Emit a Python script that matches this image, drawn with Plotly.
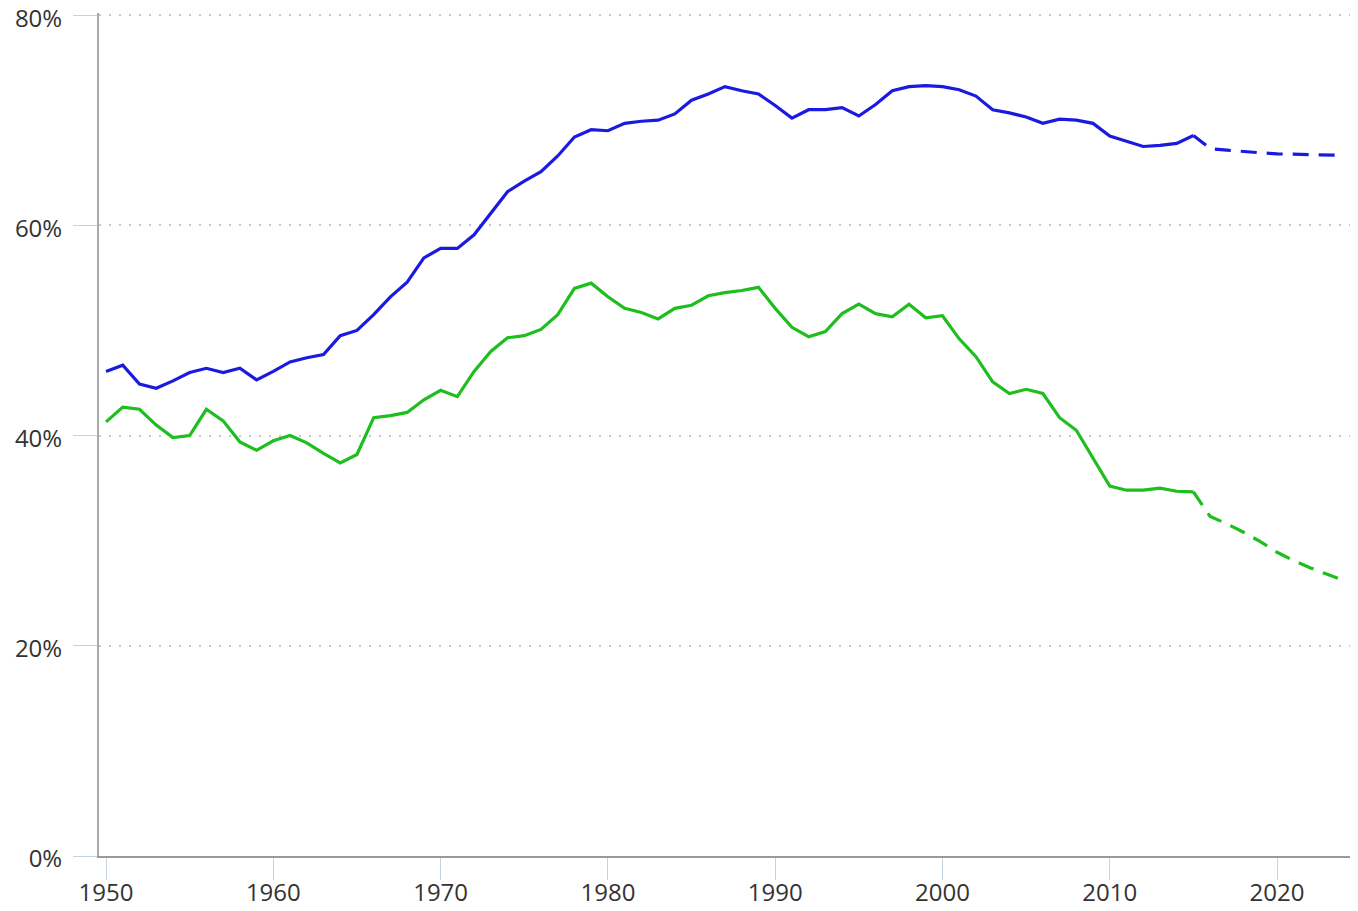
import plotly.graph_objects as go

# yearly values, percent
years = list(range(1950, 2016))
blue_values = [
    46.1, 46.7, 44.9, 44.5, 45.2, 46.0, 46.4, 46.0, 46.4, 45.3,
    46.1, 47.0, 47.4, 47.7, 49.5, 50.0, 51.5, 53.2, 54.6, 56.9,
    57.8, 57.8, 59.1, 61.2, 63.2, 64.2, 65.1, 66.6, 68.4, 69.1,
    69.0, 69.7, 69.9, 70.0, 70.6, 71.9, 72.5, 73.2, 72.8, 72.5,
    71.4, 70.2, 71.0, 71.0, 71.2, 70.4, 71.5, 72.8, 73.2, 73.3,
    73.2, 72.9, 72.3, 71.0, 70.7, 70.3, 69.7, 70.1, 70.0, 69.7,
    68.5, 68.0, 67.5, 67.6, 67.8, 68.55,
]
green_values = [
    41.3, 42.7, 42.5, 41.0, 39.8, 40.0, 42.5, 41.4, 39.4, 38.6,
    39.5, 40.0, 39.3, 38.3, 37.4, 38.2, 41.7, 41.9, 42.2, 43.4,
    44.3, 43.7, 46.1, 48.0, 49.3, 49.5, 50.1, 51.5, 54.0, 54.5,
    53.2, 52.1, 51.7, 51.1, 52.1, 52.4, 53.3, 53.6, 53.8, 54.1,
    52.1, 50.3, 49.4, 49.9, 51.6, 52.5, 51.6, 51.3, 52.5, 51.2,
    51.4, 49.2, 47.5, 45.1, 44.0, 44.4, 44.0, 41.7, 40.5, 37.8,
    35.2, 34.8, 34.8, 35.0, 34.7, 34.65,
]

# projection, starting from the last observed year
proj_years = list(range(2015, 2025))
blue_proj = [68.55, 67.3, 67.15, 67.0, 66.9, 66.8, 66.75, 66.7, 66.7, 66.65]
green_proj = [34.65, 32.3, 31.6, 30.8, 29.9, 28.9, 28.1, 27.4, 26.8, 26.2]

x_ticks = list(range(1950, 2030, 10))
y_ticks = [0, 20, 40, 60, 80]
y_labels = [f"{v}%" for v in y_ticks]

BLUE = "#1a1ae0"
GREEN = "#1ebe1e"

fig = go.Figure()
fig.add_trace(go.Scatter(x=years, y=blue_values, mode="lines",
                         line=dict(color=BLUE, width=3.2)))
fig.add_trace(go.Scatter(x=proj_years, y=blue_proj, mode="lines",
                         line=dict(color=BLUE, width=3.2, dash="16px,10px")))
fig.add_trace(go.Scatter(x=years, y=green_values, mode="lines",
                         line=dict(color=GREEN, width=3.2)))
fig.add_trace(go.Scatter(x=proj_years, y=green_proj, mode="lines",
                         line=dict(color=GREEN, width=3.2, dash="16px,10px")))

# the page body adds an 8px margin, so the figure is sized to fit inside it
fig.update_layout(
    width=1342,
    height=895,
    margin=dict(l=91, r=0, t=5, b=47),
    paper_bgcolor="white",
    plot_bgcolor="white",
    showlegend=False,
    font=dict(family="Open Sans", size=24, color="#333333"),
)
fig.update_xaxes(
    range=[1949.58, 2024.36],
    tickvals=x_ticks,
    automargin=False,
    ticklabeloverflow="allow",
    ticklabelstandoff=-8,
    showgrid=False,
    zeroline=False,
    showline=True,
    linecolor="#999999",
    linewidth=2,
    ticks="outside",
    ticklen=22,
    tickwidth=1,
    tickcolor="#c4d2e4",
)
fig.update_yaxes(
    range=[0, 80.2],
    tickvals=y_ticks,
    ticktext=y_labels,
    automargin=False,
    ticklabeloverflow="allow",
    ticklabelstandoff=6,
    ticklabelshift=3,
    showgrid=True,
    gridcolor="#c8c8c8",
    gridwidth=2,
    griddash="2px,8px",
    zeroline=False,
    showline=True,
    linecolor="#aaaaaa",
    linewidth=2,
    ticks="outside",
    ticklen=24,
    tickwidth=1,
    tickcolor="#c4d2e4",
)

fig.write_html("out.html")
